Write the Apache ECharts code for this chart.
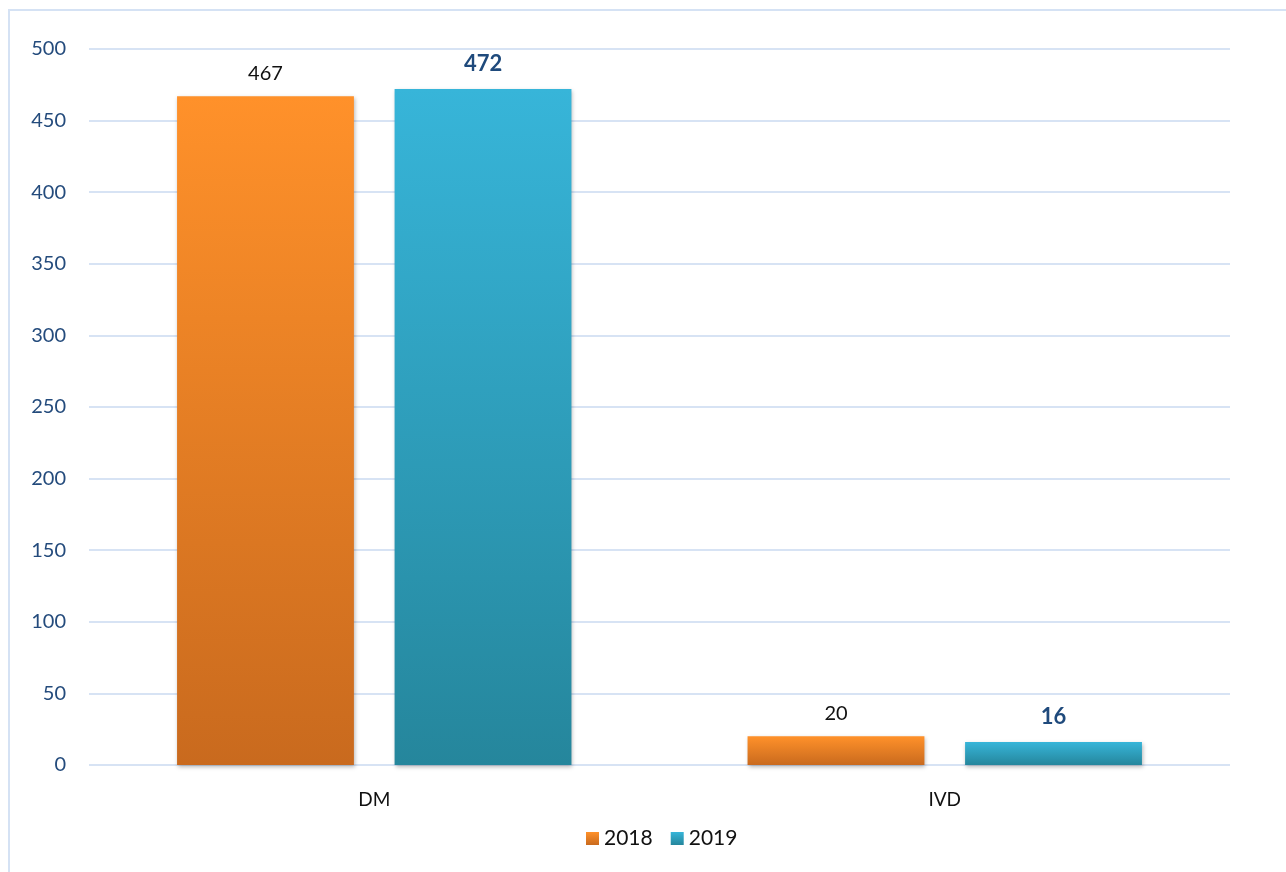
<!DOCTYPE html>
<html>
<head>
<meta charset="utf-8">
<style>
  html, body { margin: 0; padding: 0; background: #fff; }
  #chart { width: 1286px; height: 872px; }
</style>
<script src="https://cdn.jsdelivr.net/npm/echarts@6/dist/echarts.min.js"></script>
</head>
<body>
<div id="chart"></div>
<script>
// Device counts by category and year
const categories = ['DM', 'IVD'];
const values2018 = [467, 20];
const values2019 = [472, 16];
const seriesNames = ['2018', '2019'];

const FONT = 'Lato, "Open Sans", sans-serif';

function vGrad(top, bottom) {
  return new echarts.graphic.LinearGradient(0, 0, 0, 1, [
    { offset: 0, color: top },
    { offset: 1, color: bottom }
  ]);
}

const orange = vGrad('#FF912A', '#C96A1E');
const blue = vGrad('#37B5D9', '#25869C');

const barShadow = {
  shadowColor: 'rgba(0,0,0,0.28)',
  shadowBlur: 4,
  shadowOffsetX: 1,
  shadowOffsetY: 2
};

const chart = echarts.init(document.getElementById('chart'), null, { renderer: 'canvas' });

chart.setOption({
  backgroundColor: '#ffffff',
  animation: false,
  graphic: [{
    type: 'rect',
    silent: true,
    shape: { x: 9, y: 10, width: 1400, height: 1000 },
    style: { fill: 'none', stroke: '#D5E2F4', lineWidth: 2 }
  }],
  grid: { left: 89, right: 56, top: 49, bottom: 107, containLabel: false },
  legend: {
    data: seriesNames,
    bottom: 18,
    left: 581,
    itemWidth: 13,
    itemHeight: 13,
    itemGap: 18,
    icon: 'rect',
    textStyle: { fontFamily: FONT, fontSize: 21, color: '#111' }
  },
  xAxis: {
    type: 'category',
    data: categories,
    axisLine: { show: false },
    axisTick: { show: false },
    axisLabel: { fontFamily: FONT, fontSize: 19, color: '#111', margin: 25 }
  },
  yAxis: {
    type: 'value',
    min: 0,
    max: 500,
    interval: 50,
    axisLine: { show: false },
    axisTick: { show: false },
    axisLabel: { fontFamily: FONT, fontSize: 20, color: '#244B7C', margin: 23 },
    splitLine: { lineStyle: { color: '#D7E3F4', width: 2 } }
  },
  series: [
    {
      name: seriesNames[0],
      type: 'bar',
      data: values2018,
      barWidth: '31%',
      barGap: '23%',
      itemStyle: Object.assign({ color: orange }, barShadow),
      label: {
        show: true,
        position: 'top',
        distance: 13,
        fontFamily: FONT,
        fontSize: 20,
        color: '#111'
      }
    },
    {
      name: seriesNames[1],
      type: 'bar',
      data: values2019,
      barWidth: '31%',
      itemStyle: Object.assign({ color: blue }, barShadow),
      label: {
        show: true,
        position: 'top',
        distance: 14,
        fontFamily: FONT,
        fontSize: 22,
        fontWeight: 'bold',
        color: '#1F4A7C'
      }
    }
  ]
});
</script>
</body>
</html>
